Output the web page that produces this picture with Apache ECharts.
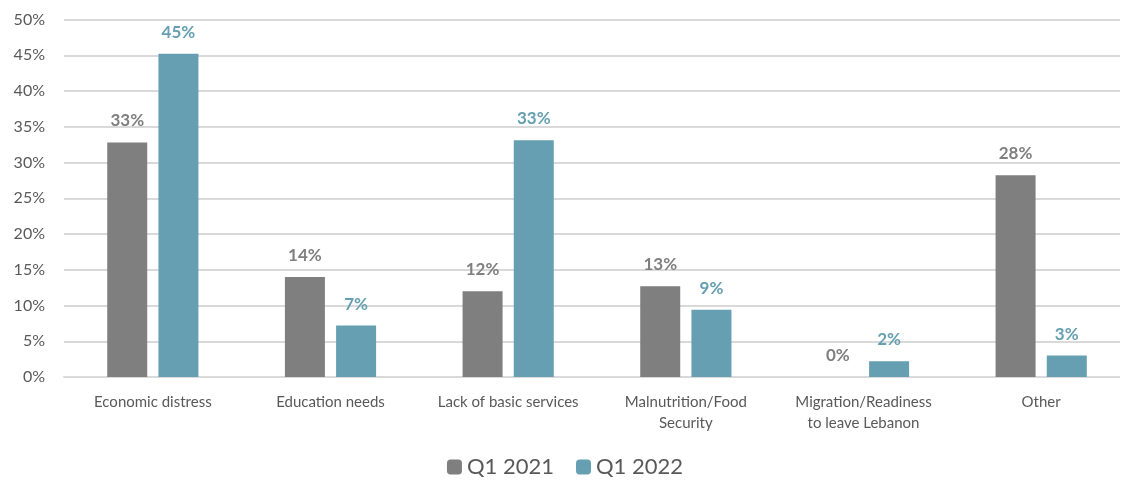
<!DOCTYPE html>
<html><head><meta charset="utf-8">
<script src="https://cdn.jsdelivr.net/npm/echarts@6/dist/echarts.min.js"></script>
<style>html,body{margin:0;padding:0;background:#fff}#c{width:1130px;height:483px}</style>
</head><body><div id="c"></div>
<script>
const categories = ["Economic distress","Education needs","Lack of basic services","Malnutrition/Food\nSecurity","Migration/Readiness\nto leave Lebanon","Other"];
const q2021 = [32.8, 14.0, 12.0, 12.7, 0, 28.2];
const q2022 = [45.2, 7.2, 33.1, 9.4, 2.2, 3.0];
const seriesNames = ["Q1 2021","Q1 2022"];
const chart = echarts.init(document.getElementById('c'));
const font = 'Lato, "Open Sans", sans-serif';
chart.setOption({
  animation:false,
  textStyle:{fontFamily:font},
  grid:{left:64,width:1072,top:19.5,bottom:106},
  graphic:[{type:'rect',right:0,top:0,shape:{width:10,height:400},style:{fill:'#fff'},z:100}],
  legend:{bottom:0,left:'center',itemWidth:15,itemHeight:15,itemGap:22,
    textStyle:{fontSize:22,color:'#595959',fontFamily:font},
    data:seriesNames},
  xAxis:{type:'category',data:categories,
    axisLine:{lineStyle:{color:'#d9d9d9',width:2}},axisTick:{show:false},
    axisLabel:{color:'#595959',fontSize:15,margin:15,lineHeight:21,interval:0}},
  yAxis:{type:'value',min:0,max:50,interval:5,
    axisLabel:{formatter:'{value}%',color:'#595959',fontSize:16,margin:19},
    splitLine:{lineStyle:{color:'#d9d9d9',width:2}},axisLine:{show:false}},
  series:[
    {name:seriesNames[0],type:'bar',data:q2021,barWidth:40,barGap:'28%',
     itemStyle:{color:'#7f7f7f'},
     label:{show:true,position:'top',distance:13,color:'#7f7f7f',fontWeight:'bold',fontSize:17,
       formatter:p=>Math.round(p.value)+'%'}},
    {name:seriesNames[1],type:'bar',data:q2022,barWidth:40,
     itemStyle:{color:'#659fb1'},
     label:{show:true,position:'top',distance:13,color:'#659fb1',fontWeight:'bold',fontSize:17,
       formatter:p=>Math.round(p.value)+'%'}}
  ]
});
</script></body></html>
